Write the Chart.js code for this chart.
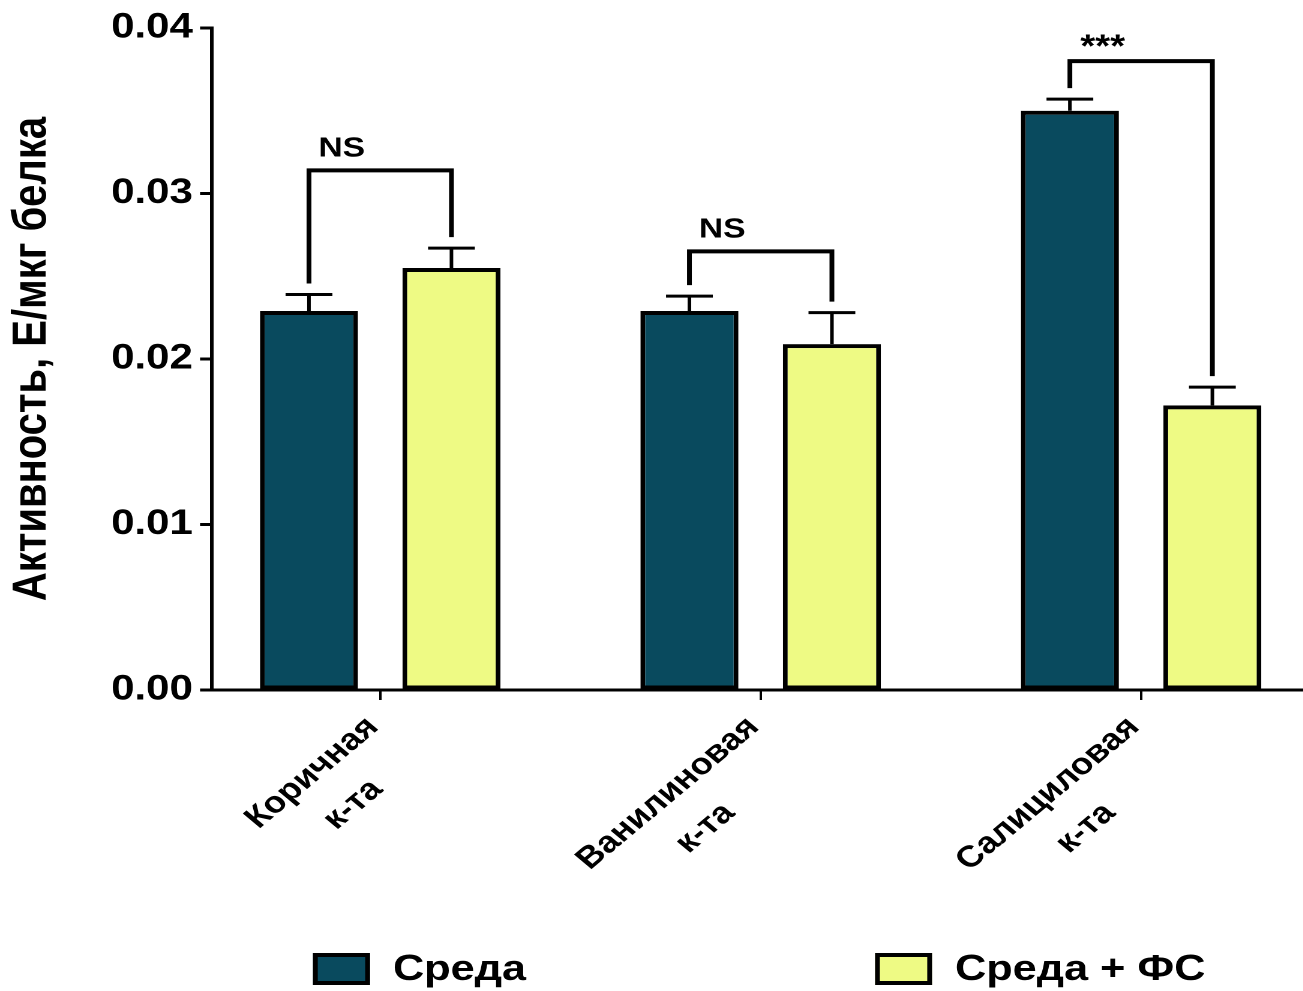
<!DOCTYPE html>
<html>
<head>
<meta charset="utf-8">
<script src="https://cdn.jsdelivr.net/npm/chart.js@4/dist/chart.umd.min.js"></script>
<style>
  html, body { margin: 0; padding: 0; background: #fff; overflow: hidden; }
  /* the figure is drawn narrow and widened horizontally */
  #wrap { position: absolute; left: 0; top: 0; width: 1086px; height: 991px;
          transform: scaleX(1.2); transform-origin: 0 0; }
</style>
</head>
<body>
<div id="wrap"><canvas id="chart" width="1086" height="991"></canvas></div>
<script>
// Categories (two-line labels) and series
const categories = [['Коричная', 'к-та'], ['Ванилиновая', 'к-та'], ['Салициловая', 'к-та']];
const seriesNames = ['Среда', 'Среда + ФС'];

// Mean activity and error (SEM), U/µg protein
const mediumValues = [0.0229, 0.0229, 0.0350];
const mediumErrors = [0.0010, 0.0009, 0.0007];
const fsValues     = [0.0255, 0.0209, 0.0172];
const fsErrors     = [0.0012, 0.0019, 0.0011];

// Significance brackets: height of the bracket and its label
const bracketTops  = [0.0314, 0.0265, 0.0380];
const significance = ['NS', 'NS', '***'];

const yTicks = [0, 0.01, 0.02, 0.03, 0.04];

const FONT = '"Liberation Sans", Arial, Helvetica, sans-serif';
const DARK = 'rgb(9,74,94)';
const LIGHT = 'rgb(238,250,132)';

// Right-aligned rotated labels: pad shorter lines so each line is centred
const measureCtx = document.createElement('canvas').getContext('2d');
function centeredLines(lines, font) {
  measureCtx.font = font;
  const widths = lines.map(t => measureCtx.measureText(t).width);
  const maxW = Math.max(...widths);
  const space = measureCtx.measureText(' ').width;
  return lines.map((t, k) => t + ' '.repeat(Math.round((maxW - widths[k]) / 2 / space)));
}

const toPoints = vals => vals.map((v, i) => ({ x: i, y: v }));

// Error bars, significance brackets and the legend row
const annotations = {
  id: 'annotations',
  afterDatasetsDraw(chart) {
    const ctx = chart.ctx;
    const ys = chart.scales.y;
    const errors = [mediumErrors, fsErrors];
    const tips = [[], []];

    ctx.save();
    ctx.strokeStyle = '#000';
    ctx.lineWidth = 3;
    ctx.lineCap = 'butt';
    chart.data.datasets.forEach((ds, di) => {
      chart.getDatasetMeta(di).data.forEach((bar, i) => {
        const top = ys.getPixelForValue(ds.data[i].y + errors[di][i]);
        ctx.beginPath();
        ctx.moveTo(bar.x, bar.y);
        ctx.lineTo(bar.x, top);
        ctx.moveTo(bar.x - 19.5, top);
        ctx.lineTo(bar.x + 19.5, top);
        ctx.stroke();
        tips[di][i] = { x: bar.x, y: top };
      });
    });

    ctx.lineWidth = 4;
    ctx.lineJoin = 'miter';
    bracketTops.forEach((b, i) => {
      const by = ys.getPixelForValue(b);
      const a = tips[0][i], c = tips[1][i];
      ctx.beginPath();
      ctx.moveTo(a.x, a.y - 11);
      ctx.lineTo(a.x, by);
      ctx.lineTo(c.x, by);
      ctx.lineTo(c.x, c.y - 11);
      ctx.stroke();

      const label = significance[i];
      ctx.font = (label === 'NS' ? 'bold 28px ' : 'bold 32px ') + FONT;
      ctx.fillStyle = '#000';
      ctx.textAlign = 'center';
      ctx.textBaseline = 'alphabetic';
      const m = ctx.measureText(label);
      ctx.fillText(label, a.x + 0.23 * (c.x - a.x), by - 14 - m.actualBoundingBoxDescent);
    });
    ctx.restore();
  },
  afterDraw(chart) {
    const ctx = chart.ctx;
    const itemX = [260.8, 729.2];
    const boxY = 953, boxW = 47.5, boxH = 32;
    ctx.save();
    chart.data.datasets.forEach((ds, di) => {
      const x = itemX[di];
      ctx.fillStyle = ds.backgroundColor;
      ctx.fillRect(x, boxY, boxW, boxH);
      ctx.strokeStyle = '#000';
      ctx.lineWidth = 4;
      ctx.strokeRect(x + 2, boxY + 2, boxW - 4, boxH - 4);
      ctx.fillStyle = '#000';
      ctx.font = 'bold 36px ' + FONT;
      ctx.textAlign = 'left';
      ctx.textBaseline = 'middle';
      ctx.fillText(ds.label, x + 66.7, boxY + boxH / 2 + 1);
    });
    ctx.restore();
  }
};

const xLabelFont = 'bold 30px ' + FONT;

new Chart(document.getElementById('chart'), {
  type: 'bar',
  data: {
    datasets: [
      { label: seriesNames[0], data: toPoints(mediumValues), backgroundColor: DARK,
        borderColor: '#000', borderWidth: 4, borderSkipped: false },
      { label: seriesNames[1], data: toPoints(fsValues), backgroundColor: LIGHT,
        borderColor: '#000', borderWidth: 4, borderSkipped: false }
    ]
  },
  options: {
    responsive: false,
    animation: false,
    devicePixelRatio: 2,
    categoryPercentage: 0.749,
    barPercentage: 0.688,
    layout: { padding: { top: 28, right: 0, bottom: 0, left: 0 } },
    plugins: { legend: { display: false }, tooltip: { enabled: false } },
    scales: {
      x: {
        type: 'linear',
        min: -0.442,
        max: 2.426,
        offset: false,
        afterBuildTicks: s => { s.ticks = categories.map((_, i) => ({ value: i })); },
        afterFit: s => { s.height = 301; s.paddingLeft = 0; s.paddingRight = 0; },
        border: { display: true, color: '#000', width: 3 },
        grid: { offset: false, drawOnChartArea: false, drawTicks: true, tickLength: 10, tickWidth: 2, tickColor: '#000' },
        ticks: {
          autoSkip: false,
          minRotation: 45,
          maxRotation: 45,
          padding: 6,
          labelOffset: -6,
          color: '#000',
          font: { family: FONT, size: 30, weight: 'bold', lineHeight: 1.55 },
          callback: v => categories[v] ? centeredLines(categories[v], xLabelFont) : ''
        }
      },
      y: {
        min: 0,
        max: 0.04,
        afterBuildTicks: s => { s.ticks = yTicks.map(v => ({ value: v })); },
        afterFit: s => { s.width = 176.7; },
        border: { display: true, color: '#000', width: 3 },
        grid: { drawOnChartArea: false, drawTicks: true, tickLength: 10, tickWidth: 3, tickColor: '#000' },
        ticks: {
          padding: 6,
          color: '#000',
          font: { family: FONT, size: 35, weight: 'bold' },
          callback: v => Number(v).toFixed(2)
        },
        title: {
          display: true,
          text: 'Активность, Е/мкг белка',
          color: '#000',
          font: { family: FONT, size: 40, weight: 'bold' },
          padding: { top: 3, bottom: 0 }
        }
      }
    }
  },
  plugins: [annotations]
});
</script>
</body>
</html>
